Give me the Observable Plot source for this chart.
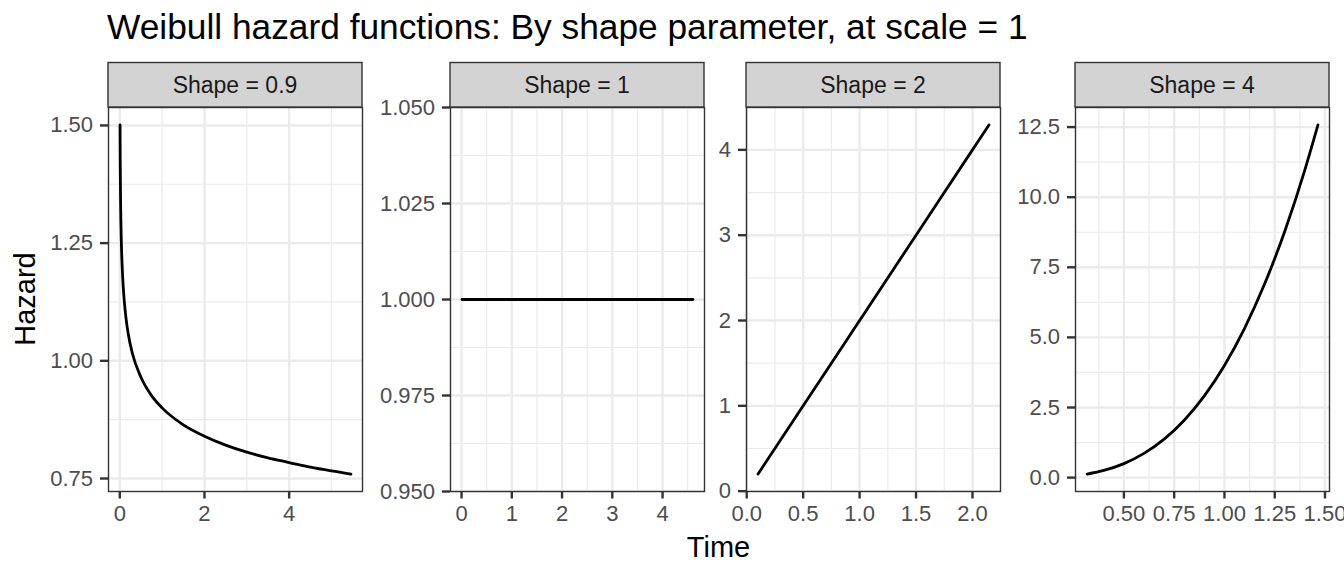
<!DOCTYPE html>
<html>
<head>
<meta charset="utf-8">
<script src="https://cdn.jsdelivr.net/npm/d3@7"></script>
<script src="https://cdn.jsdelivr.net/npm/@observablehq/plot@0.6"></script>
<style>
  html, body { margin: 0; padding: 0; background: #fff; }
  #chart { position: relative; width: 1344px; height: 576px; overflow: hidden; font-family: "Liberation Sans", Arial, Helvetica, sans-serif; }
  #chart svg { position: absolute; overflow: visible; }
</style>
</head>
<body>
<div id="chart"></div>
<script>
// ---- Data ----
const titleText = "Weibull hazard functions: By shape parameter, at scale = 1";
const xTitle = "Time";
const yTitle = "Hazard";
const shapes = [0.9, 1, 2, 4];
const stripLabels = ["Shape = 0.9", "Shape = 1", "Shape = 2", "Shape = 4"];

const time09   = [0.006, 0.01, 0.02, 0.035, 0.05, 0.075, 0.1, 0.15, 0.2, 0.3, 0.5, 0.75, 1, 1.5, 2, 2.5, 3, 3.5, 4, 4.5, 5, 5.46];
const hazard09 = [1.501, 1.426, 1.331, 1.258, 1.214, 1.166, 1.133, 1.088, 1.057, 1.015, 0.965, 0.926, 0.900, 0.864, 0.840, 0.821, 0.806, 0.794, 0.784, 0.774, 0.766, 0.7595];

const time1   = [0.01005, 1, 2, 3, 4, 4.605];
const hazard1 = [1, 1, 1, 1, 1, 1];

const time2   = [0.1003, 0.5, 1, 1.5, 2, 2.146];
const hazard2 = [0.2006, 1, 2, 3, 4, 4.292];

const time4   = [0.3166, 0.4, 0.5, 0.6, 0.7, 0.8, 0.9, 1.0, 1.1, 1.2, 1.3, 1.4, 1.465];
const hazard4 = [0.127, 0.256, 0.5, 0.864, 1.372, 2.048, 2.916, 4.0, 5.324, 6.912, 8.788, 10.976, 12.576];

const times   = [time09, time1, time2, time4];
const hazards = [hazard09, hazard1, hazard2, hazard4];

// tick values and labels
const xMajor = [[0, 2, 4], [0, 1, 2, 3, 4], [0, 0.5, 1, 1.5, 2], [0.5, 0.75, 1, 1.25, 1.5]];
const xMajorLabels = [["0", "2", "4"], ["0", "1", "2", "3", "4"], ["0.0", "0.5", "1.0", "1.5", "2.0"], ["0.50", "0.75", "1.00", "1.25", "1.50"]];
const xMinor = [[1, 3, 5], [0.5, 1.5, 2.5, 3.5, 4.5], [0.25, 0.75, 1.25, 1.75], [0.375, 0.625, 0.875, 1.125, 1.375]];
const yMajor = [[0.75, 1, 1.25, 1.5], [0.95, 0.975, 1, 1.025, 1.05], [0, 1, 2, 3, 4], [0, 2.5, 5, 7.5, 10, 12.5]];
const yMajorLabels = [["0.75", "1.00", "1.25", "1.50"], ["0.950", "0.975", "1.000", "1.025", "1.050"], ["0", "1", "2", "3", "4"], ["0.0", "2.5", "5.0", "7.5", "10.0", "12.5"]];
const yMinor = [[0.875, 1.125, 1.375], [0.9625, 0.9875, 1.0125, 1.0375], [0.5, 1.5, 2.5, 3.5], [1.25, 3.75, 6.25, 8.75, 11.25]];

// ---- Layout ----
const font = '"Liberation Sans", Arial, Helvetica, sans-serif';
const panelLeft = [108, 450, 746, 1075];
const panelW = 254;
const panelTop = 107, panelBottom = 491;
const panelH = panelBottom - panelTop;
const stripTop = 62.5;
const mL = 90, mR = 30, mT = 4, mB = 44;

function expand(vals) {
  const [a, b] = d3.extent(vals);
  if (a === b) return [a - 0.05 * Math.abs(a), b + 0.05 * Math.abs(a)];
  const d = (b - a) * 0.05;
  return [a - d, b + d];
}

const chart = document.getElementById("chart");

shapes.forEach((s, i) => {
  const data = times[i].map((t, j) => ({t, h: hazards[i][j]}));
  const xl = new Map(xMajor[i].map((v, j) => [v, xMajorLabels[i][j]]));
  const yl = new Map(yMajor[i].map((v, j) => [v, yMajorLabels[i][j]]));
  const p = Plot.plot({
    width: panelW + mL + mR,
    height: panelH + mT + mB,
    marginLeft: mL, marginRight: mR, marginTop: mT, marginBottom: mB,
    style: {fontFamily: font, background: "transparent", overflow: "visible"},
    x: {domain: expand(times[i])},
    y: {domain: expand(hazards[i])},
    marks: [
      Plot.ruleX(xMinor[i], {stroke: "#EBEBEB", strokeWidth: 1.2}),
      Plot.ruleY(yMinor[i], {stroke: "#EBEBEB", strokeWidth: 1.2}),
      Plot.ruleX(xMajor[i], {stroke: "#EBEBEB", strokeWidth: 2.4}),
      Plot.ruleY(yMajor[i], {stroke: "#EBEBEB", strokeWidth: 2.4}),
      Plot.line(data, {x: "t", y: "h", curve: "monotone-x", stroke: "#000", strokeWidth: 2.8}),
      Plot.frame({stroke: "#333333", strokeWidth: 1.4}),
      Plot.axisX(xMajor[i], {anchor: "bottom", tickSize: 7.5, tickPadding: 6, tickFormat: d => xl.get(d), fontSize: 22, stroke: "#333333", fill: "#4D4D4D", strokeWidth: 2.4, label: null}),
      Plot.axisY(yMajor[i], {anchor: "left", tickSize: 8, tickPadding: 7.5, tickFormat: d => yl.get(d), fontSize: 22, stroke: "#333333", fill: "#4D4D4D", strokeWidth: 2.4, label: null})
    ]
  });
  p.style.left = (panelLeft[i] - mL) + "px";
  p.style.top = (panelTop - mT) + "px";
  chart.appendChild(p);
});

// ---- Overlay: title, strips, axis titles ----
const svg = d3.select(chart).append("svg")
  .attr("width", 1344).attr("height", 576)
  .style("left", "0px").style("top", "0px")
  .style("pointer-events", "none")
  .style("font-family", font);

svg.append("text").attr("x", 107).attr("y", 39)
  .attr("font-size", 35.3).attr("fill", "#000").text(titleText);

shapes.forEach((s, i) => {
  svg.append("rect")
    .attr("x", panelLeft[i]).attr("y", stripTop)
    .attr("width", panelW).attr("height", panelTop - stripTop)
    .attr("fill", "#D3D3D3").attr("stroke", "#333333").attr("stroke-width", 1.4);
  svg.append("text")
    .attr("x", panelLeft[i] + panelW / 2).attr("y", 93.3)
    .attr("text-anchor", "middle").attr("font-size", 23).attr("fill", "#1A1A1A")
    .text(stripLabels[i]);
});

svg.append("text")
  .attr("x", (panelLeft[0] + panelLeft[3] + panelW) / 2).attr("y", 556.5)
  .attr("text-anchor", "middle").attr("font-size", 29).attr("fill", "#000").text(xTitle);

svg.append("text")
  .attr("transform", `translate(35, ${(panelTop + panelBottom) / 2}) rotate(-90)`)
  .attr("text-anchor", "middle").attr("font-size", 29).attr("fill", "#000").text(yTitle);
</script>
</body>
</html>
